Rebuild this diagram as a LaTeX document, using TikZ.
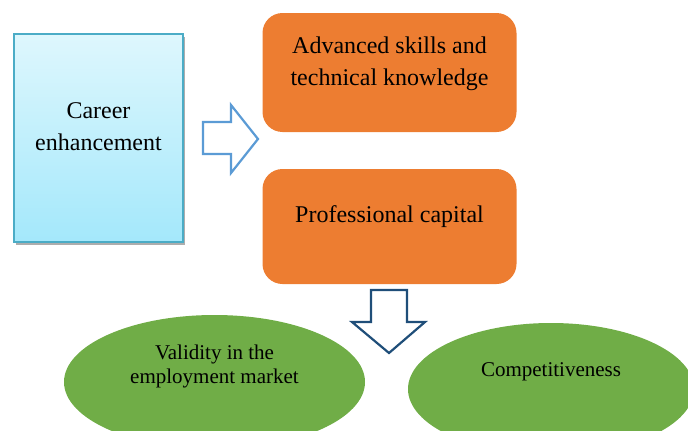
\documentclass[tikz,border=0pt]{standalone}
\usepackage{fontspec}
\setmainfont{Liberation Serif}
\usetikzlibrary{shapes.geometric,shadows}
\definecolor{orangebox}{HTML}{ED7D31}
\definecolor{greenell}{HTML}{70AD47}
\definecolor{cyantop}{HTML}{DEF7FD}
\definecolor{cyanbot}{HTML}{A4E8FB}
\definecolor{cyanedge}{HTML}{4BACC6}
\definecolor{arrowblue}{HTML}{5B9BD5}
\definecolor{arrowdark}{HTML}{1F4E79}
\tikzset{
  bigtext/.style={font=\fontsize{24}{32}\selectfont, align=center, inner sep=0},
  smalltext/.style={font=\fontsize{21}{24}\selectfont, align=center, inner sep=0},
  orangebox/.style={draw=none, fill=orangebox, rounded corners=20pt, inner sep=0, minimum width=254pt},
  greenell/.style={ellipse, draw=none, fill=greenell, inner sep=0},
  careerbox/.style={rectangle, draw=cyanedge, line width=1.3pt, top color=cyantop, bottom color=cyanbot, inner sep=0, minimum width=169pt, minimum height=208pt, drop shadow={shadow xshift=2pt, shadow yshift=-3pt, fill=black!40, opacity=0.8}},
  blockarrow/.style={fill=white, line width=2.2pt, line join=miter}
}
\begin{document}
\begin{tikzpicture}[x=1pt,y=-1pt]
\useasboundingbox (0,0) rectangle (688,431);
% career box
\node[careerbox, label={[bigtext, yshift=11.5pt, name=careertext]center:Career\\enhancement}] (career) at (98.5,138) {};
% orange boxes
\node[orangebox, minimum height=119pt, label={[bigtext, yshift=8.5pt, name=advtext]center:Advanced skills and\\technical knowledge}] (adv) at (389.5,72.5) {};
\node[orangebox, minimum height=115pt, label={[bigtext, yshift=9.5pt, name=proftext]center:Professional capital}] (prof) at (389.5,226.5) {};
% ellipses
\node[greenell, minimum width=301pt, minimum height=134pt, label={[smalltext, yshift=16pt, name=validtext]center:Validity in the\\employment market}] (valid) at (214.5,382) {};
\node[greenell, minimum width=286pt, minimum height=132pt, label={[smalltext, yshift=17pt, name=comptext]center:Competitiveness}] (comp) at (551,389) {};
% right block arrow
\draw[blockarrow, draw=arrowblue] (203,122) -- (231,122) -- (231,105) -- (258,139) -- (231,173) -- (231,154) -- (203,154) -- cycle;
% down block arrow
\draw[blockarrow, draw=arrowdark] (371,290) -- (407,290) -- (407,322) -- (425,322) -- (389,353) -- (352,322) -- (371,322) -- cycle;
\end{tikzpicture}
\end{document}
